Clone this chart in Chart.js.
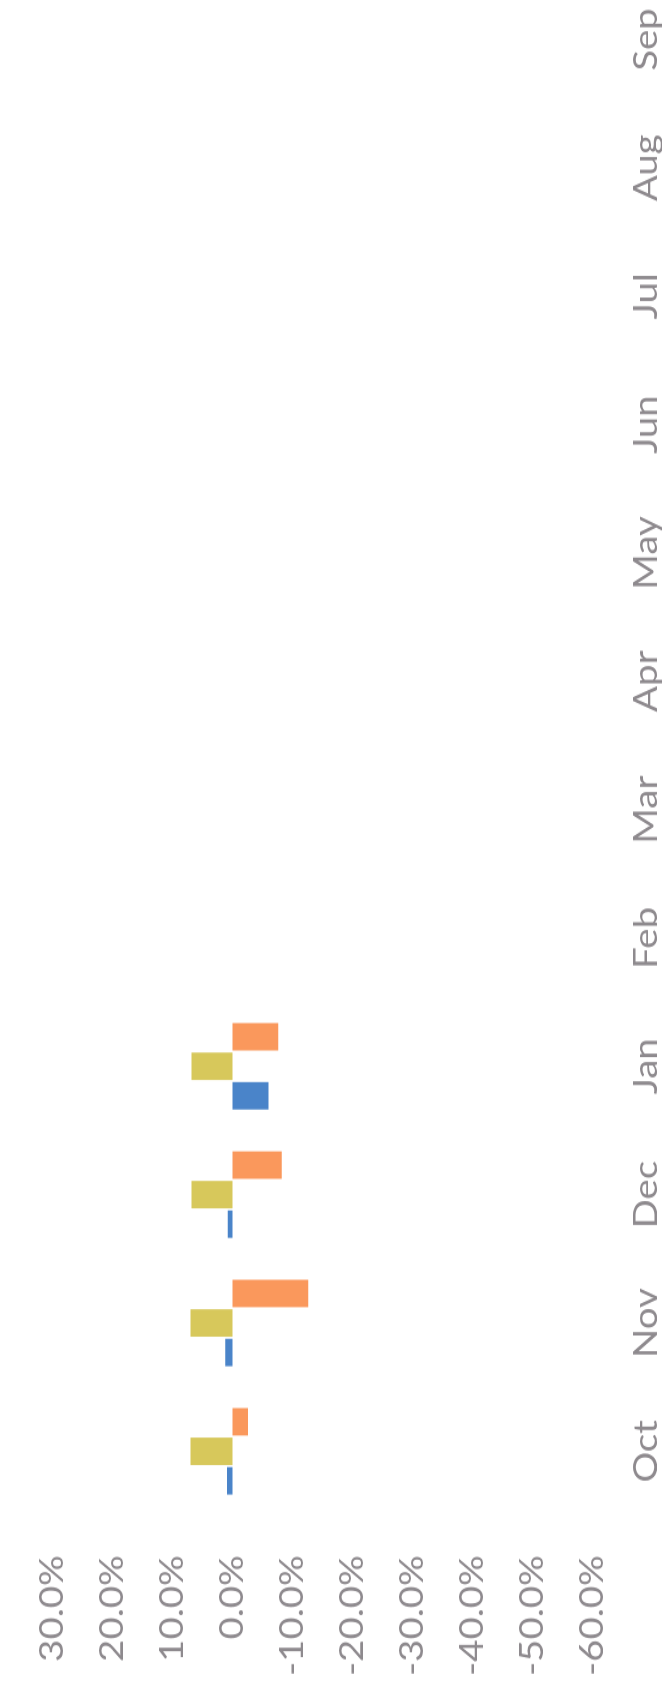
<!DOCTYPE html>
<html>
<head>
<meta charset="utf-8">
<script src="https://cdn.jsdelivr.net/npm/chart.js@4.4.1/dist/chart.umd.min.js"></script>
<style>
    html, body { margin: 0; padding: 0; background: #fff; }
    #wrap { position: relative; width: 662px; height: 1690px; overflow: hidden; background: #fff; }
    /* chart is drawn upright, then turned on its side and stretched along the month axis */
    #myChart {
        position: absolute;
        left: 0;
        top: 0;
        transform-origin: 0 0;
        transform: translate(0, 1677.5px) scaleY(1.2) rotate(-90deg);
    }
</style>
</head>
<body>
<div id="wrap"><canvas id="myChart" width="1425" height="662"></canvas></div>
<script>
const months = ['Oct', 'Nov', 'Dec', 'Jan', 'Feb', 'Mar', 'Apr', 'May', 'Jun', 'Jul', 'Aug', 'Sep'];

// monthly change, %
const blueValues = [0.9, 1.2, 0.8, -6.0, null, null, null, null, null, null, null, null];
const yellowValues = [7.0, 7.0, 6.8, 6.8, null, null, null, null, null, null, null, null];
const orangeValues = [-2.6, -12.6, -8.2, -7.6, null, null, null, null, null, null, null, null];

const valueMin = -60;
const valueMax = 30;
const valueStep = 10;

const labelColor = '#8e8a8e';
const labelFont = { family: 'Lato', size: 32 };

function createChart(ctx) {
    return new Chart(ctx, {
        type: 'bar',
        data: {
            labels: months,
            datasets: [
                { data: blueValues, backgroundColor: '#4a84c9' },
                { data: yellowValues, backgroundColor: '#d7c85b' },
                { data: orangeValues, backgroundColor: '#fa985c' }
            ]
        },
        options: {
            responsive: false,
            animation: false,
            devicePixelRatio: 1,
            layout: {
                padding: { top: 23, left: 0, right: 0, bottom: 0 }
            },
            datasets: {
                bar: {
                    categoryPercentage: 0.69,
                    barPercentage: 0.93
                }
            },
            plugins: {
                legend: { display: false },
                title: { display: false },
                tooltip: { enabled: false }
            },
            scales: {
                x: {
                    grid: { display: false, drawTicks: false },
                    border: { display: false },
                    ticks: {
                        color: labelColor,
                        font: labelFont,
                        padding: 34,
                        maxRotation: 0,
                        minRotation: 0,
                        autoSkip: false
                    },
                    afterFit: (scale) => { scale.height = 69; }
                },
                y: {
                    min: valueMin,
                    max: valueMax,
                    grid: { display: false, drawTicks: false },
                    border: { display: false },
                    ticks: {
                        stepSize: valueStep,
                        color: labelColor,
                        font: labelFont,
                        padding: 33,
                        callback: (v) => v.toFixed(1) + '%'
                    },
                    afterFit: (scale) => { scale.width = 135; }
                }
            }
        }
    });
}

document.addEventListener('DOMContentLoaded', () => {
    const ctx = document.getElementById('myChart').getContext('2d');
    createChart(ctx);
});
</script>
</body>
</html>
